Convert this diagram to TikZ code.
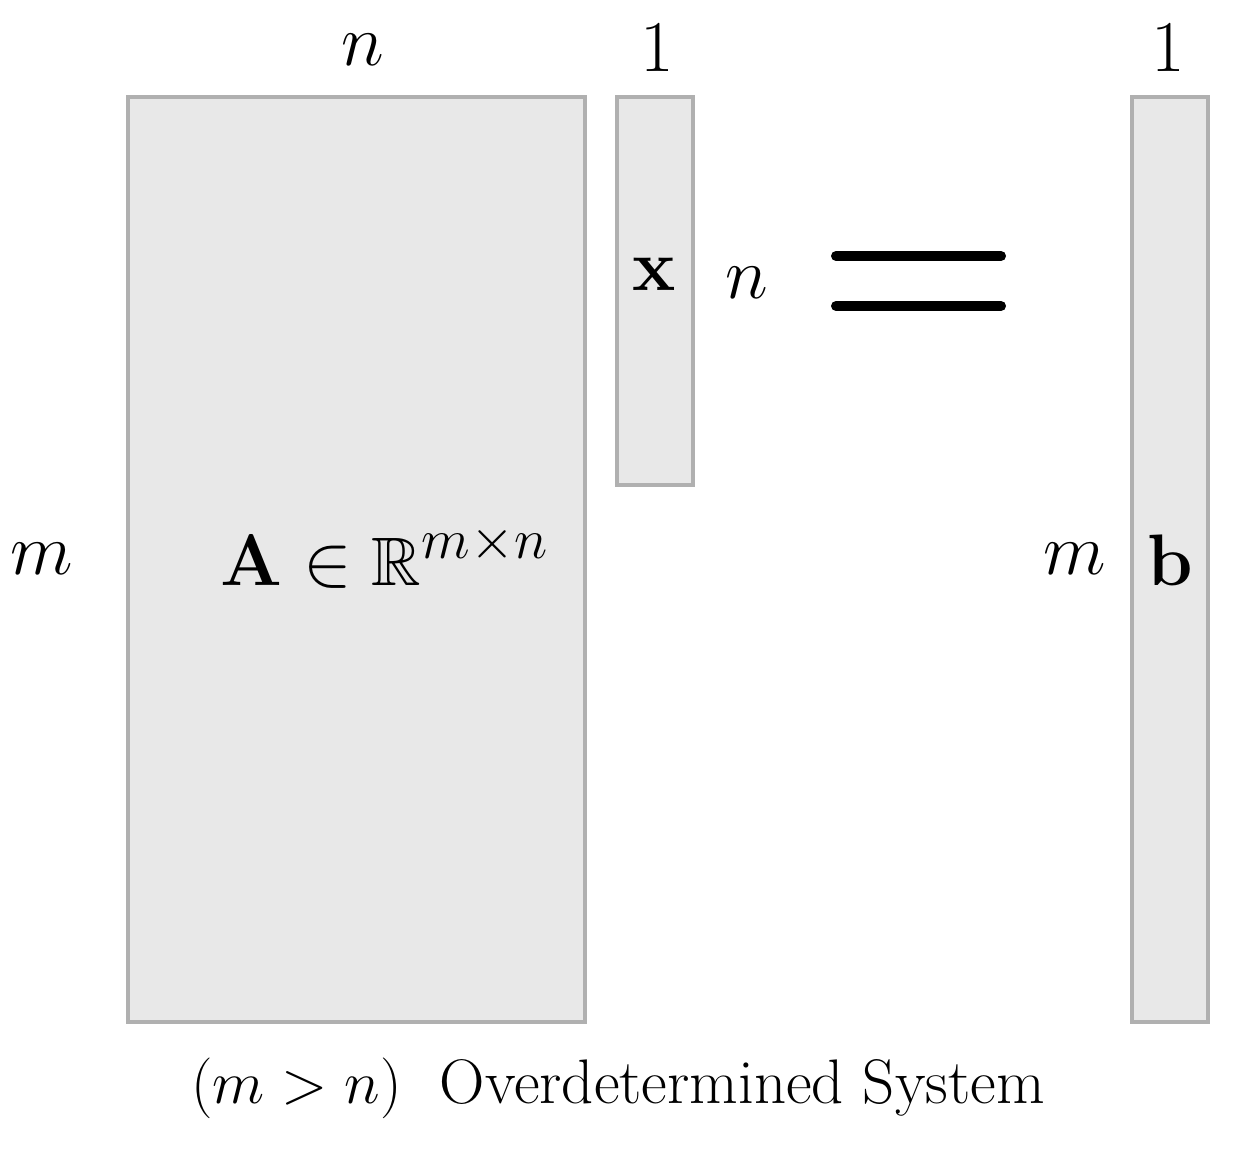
\documentclass[tikz,border=0pt]{standalone}
\usepackage{amsmath,amssymb}
\usepackage{graphicx}
\usepackage{tikz}
\usetikzlibrary{positioning}

\definecolor{boxfill}{HTML}{E8E8E8}
\definecolor{boxedge}{HTML}{B0B0B0}

\tikzset{
  matbox/.style={draw=boxedge, fill=boxfill, line width=1pt},
  dimlabel/.style={inner sep=0pt, font=\fontsize{19.5}{23}\selectfont},
  caption/.style={inner sep=0pt, font=\fontsize{17.9}{21}\selectfont}
}

\begin{document}
\begin{tikzpicture}[x=0.01cm, y=-0.01cm]
    \useasboundingbox (0, 0) rectangle (1252, 1149);

    % Matrix A
    \draw[matbox] (128, 97) rectangle (585, 1022);
    \node[dimlabel] (Alabel) at (385, 557) {$\mathbf{A} \in \mathbb{R}^{\scalebox{1.12}{$\scriptstyle m \times n$}}$};
    \node[dimlabel] (Atop) at (363, 50) {$n$};
    \node[dimlabel] (Aleft) at (42, 559) {$m$};

    % Vector x
    \draw[matbox] (617, 97) rectangle (693, 485);
    \node[dimlabel] (xlabel) at (654, 274) {$\mathbf{x}$};
    \node[dimlabel] (xtop) at (657, 48) {$1$};
    \node[dimlabel] (xright) at (747, 283) {$n$};

    % Equals sign
    \draw[line width=0.1cm, line cap=round] (836, 256) -- (1001, 256);
    \draw[line width=0.1cm, line cap=round] (836, 306) -- (1001, 306);

    % Vector b
    \draw[matbox] (1132, 97) rectangle (1208, 1022);
    \node[dimlabel] (blabel) at (1170, 560) {$\mathbf{b}$};
    \node[dimlabel] (btop) at (1168, 48) {$1$};
    \node[dimlabel] (bleft) at (1075, 559) {$m$};

    % Caption
    \node[caption] (cap) at (618, 1088) {$(m > n)$\hspace{0.6em}Overdetermined System};
\end{tikzpicture}
\end{document}
